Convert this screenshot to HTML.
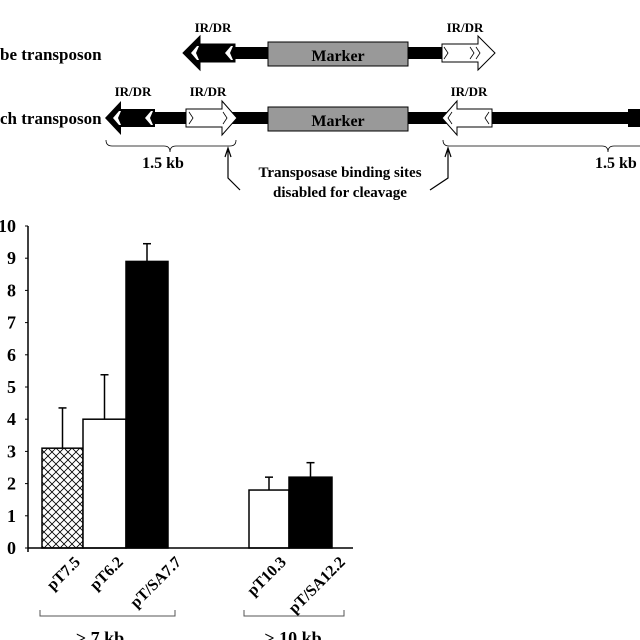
<!DOCTYPE html>
<html><head><meta charset="utf-8"><style>
body{margin:0;background:#fff}
svg{display:block;font-family:"Liberation Serif",serif;font-weight:bold}
</style></head><body>
<svg width="640" height="640" viewBox="0 0 640 640">
<defs>
<pattern id="hatch" width="8" height="8" patternUnits="userSpaceOnUse">
<path d="M0,0 L8,8 M8,0 L0,8" stroke="#000" stroke-width="0.8"/>
</pattern>
</defs>
<g>
<text x="0" y="60" font-size="17">be transposon</text>
<text x="0" y="124" font-size="17">ch transposon</text>
<!-- row1 -->
<rect x="228" y="47" width="220" height="12" fill="#000"/>
<path d="M183,53 L200,36 L200,44 L235,44 L235,62 L200,62 L200,70 Z" fill="#000" stroke="#000"/>
<path d="M191,53 L197,46 L199,46 L196,53 L199,60 L197,60 Z M225,53 L231,46 L233,46 L230,53 L233,60 L231,60 Z" fill="#fff"/>
<rect x="268" y="42" width="140" height="24" fill="#999" stroke="#000"/>
<text x="338" y="61" font-size="16" text-anchor="middle">Marker</text>
<path d="M442,44 L478,44 L478,36 L495,53 L478,70 L478,62 L442,62 Z" fill="#fff" stroke="#000"/>
<path d="M444,47 L448,53 L444,59 M470,47 L474,53 L470,59 M476,47 L480,53 L476,59" fill="none" stroke="#000" stroke-width="0.8"/>
<text x="213" y="32" font-size="13" text-anchor="middle">IR/DR</text>
<text x="465" y="32" font-size="13" text-anchor="middle">IR/DR</text>
<!-- row2 -->
<rect x="140" y="112" width="500" height="12" fill="#000"/>
<path d="M105,118 L121,101 L121,109 L155,109 L155,127 L121,127 L121,135 Z" fill="#000"/>
<path d="M113,118 L119,111 L121,111 L118,118 L121,125 L119,125 Z M145,118 L151,111 L153,111 L150,118 L153,125 L151,125 Z" fill="#fff"/>
<path d="M186,109 L222,109 L222,101 L237,118 L222,135 L222,127 L186,127 Z" fill="#fff" stroke="#000"/>
<path d="M189,112 L193,118 L189,124 M223,112 L227,118 L223,124" fill="none" stroke="#000" stroke-width="0.8"/>
<rect x="268" y="107" width="140" height="24" fill="#999" stroke="#000"/>
<text x="338" y="126" font-size="16" text-anchor="middle">Marker</text>
<path d="M442,118 L457,101 L457,109 L492,109 L492,127 L457,127 L457,135 Z" fill="#fff" stroke="#000"/>
<path d="M452,112 L448,118 L452,124 M489,112 L485,118 L489,124" fill="none" stroke="#000" stroke-width="0.8"/>
<path d="M628,109 L640,109 L640,127 L628,127 Z" fill="#000"/>
<text x="133" y="96" font-size="13" text-anchor="middle">IR/DR</text>
<text x="208" y="96" font-size="13" text-anchor="middle">IR/DR</text>
<text x="469" y="96" font-size="13" text-anchor="middle">IR/DR</text>
<path d="M106,140 Q106,146 112,146 L164,146 Q170,146 170,152 Q170,146 176,146 L230,146 Q236,146 236,140" fill="none" stroke="#000" stroke-width="0.8"/>
<path d="M443,140 Q443,146 449,146 L602,146 Q608,146 608,152 Q608,146 614,146 L640,146" fill="none" stroke="#000" stroke-width="0.8"/>
<text x="163" y="168" font-size="16" text-anchor="middle">1.5 kb</text>
<text x="595" y="168" font-size="16">1.5 kb</text>
<path d="M228,150 L228,178 L240,190 M225,157 L228,148 L231,157" fill="none" stroke="#000" stroke-width="1.2"/>
<path d="M448,150 L448,178 L430,190 M445,157 L448,148 L451,157" fill="none" stroke="#000" stroke-width="1.2"/>
<text x="340" y="177" font-size="15" text-anchor="middle">Transposase binding sites</text>
<text x="340" y="197" font-size="15" text-anchor="middle">disabled for cleavage</text>
</g>
<g id="chart"></g>
</svg>
<script>
const categories=["pT7.5","pT6.2","pT/SA7.7","pT10.3","pT/SA12.2"];
const values=[3.1,4.0,8.9,1.8,2.2];
const errors=[1.25,1.38,0.55,0.4,0.45];
const yTicks=[0,1,2,3,4,5,6,7,8,9,10];
const fills=["url(#hatch)","#fff","#000","#fff","#000"];
const NS="http://www.w3.org/2000/svg";
const g=document.getElementById('chart');
const y0=548,pxPer=32.2,ax=28;
const y=v=>y0-v*pxPer;
const barX=[42,83,126,249,289],barW=[41,43,42,40,43];
function el(t,a){const e=document.createElementNS(NS,t);for(const k in a)e.setAttribute(k,a[k]);g.appendChild(e);return e;}
const yl=el('line',{x1:ax,y1:y(10),x2:ax,y2:y0+4,stroke:'#000','stroke-width':1.5});


yTicks.forEach(t=>{
 el('line',{x1:ax-3,y1:y(t),x2:ax,y2:y(t),stroke:'#000'});
 const tx=el('text',{x:16,y:y(t)+6,'font-size':18,'text-anchor':'end'});
 tx.textContent=t;
 
 
});
categories.forEach((c,i)=>{
 const cx=barX[i]+barW[i]/2, top=y(values[i]+errors[i]);
 el('line',{x1:cx,y1:y(values[i]),x2:cx,y2:top,stroke:'#000','stroke-width':1.5});
 el('line',{x1:cx-4,y1:top,x2:cx+4,y2:top,stroke:'#000','stroke-width':1.5});
 const r=el('rect',{x:barX[i],y:y(values[i]),width:barW[i],height:values[i]*pxPer,fill:fills[i],stroke:'#000','stroke-width':1.5});
 
 
 const lx=barX[i]+barW[i]-2+(i==2||i==4?16:0), ly=563;
 const t=el('text',{x:lx,y:ly,'font-size':16,'text-anchor':'end',transform:`rotate(-45 ${lx} ${ly})`});
 t.textContent=c;
 
 
});
const xl=el('line',{x1:ax,y1:y0,x2:353,y2:y0,stroke:'#000','stroke-width':1.5});


el('path',{d:'M40,610 L40,616 L175,616 L175,610',fill:'none',stroke:'#555'});
el('path',{d:'M244,610 L244,616 L344,616 L344,610',fill:'none',stroke:'#555'});
const g1=el('text',{x:100,y:644,'font-size':18,'text-anchor':'middle'});g1.textContent='> 7 kb';


const g2=el('text',{x:293,y:644,'font-size':18,'text-anchor':'middle'});g2.textContent='> 10 kb';


</script>
</body></html>
